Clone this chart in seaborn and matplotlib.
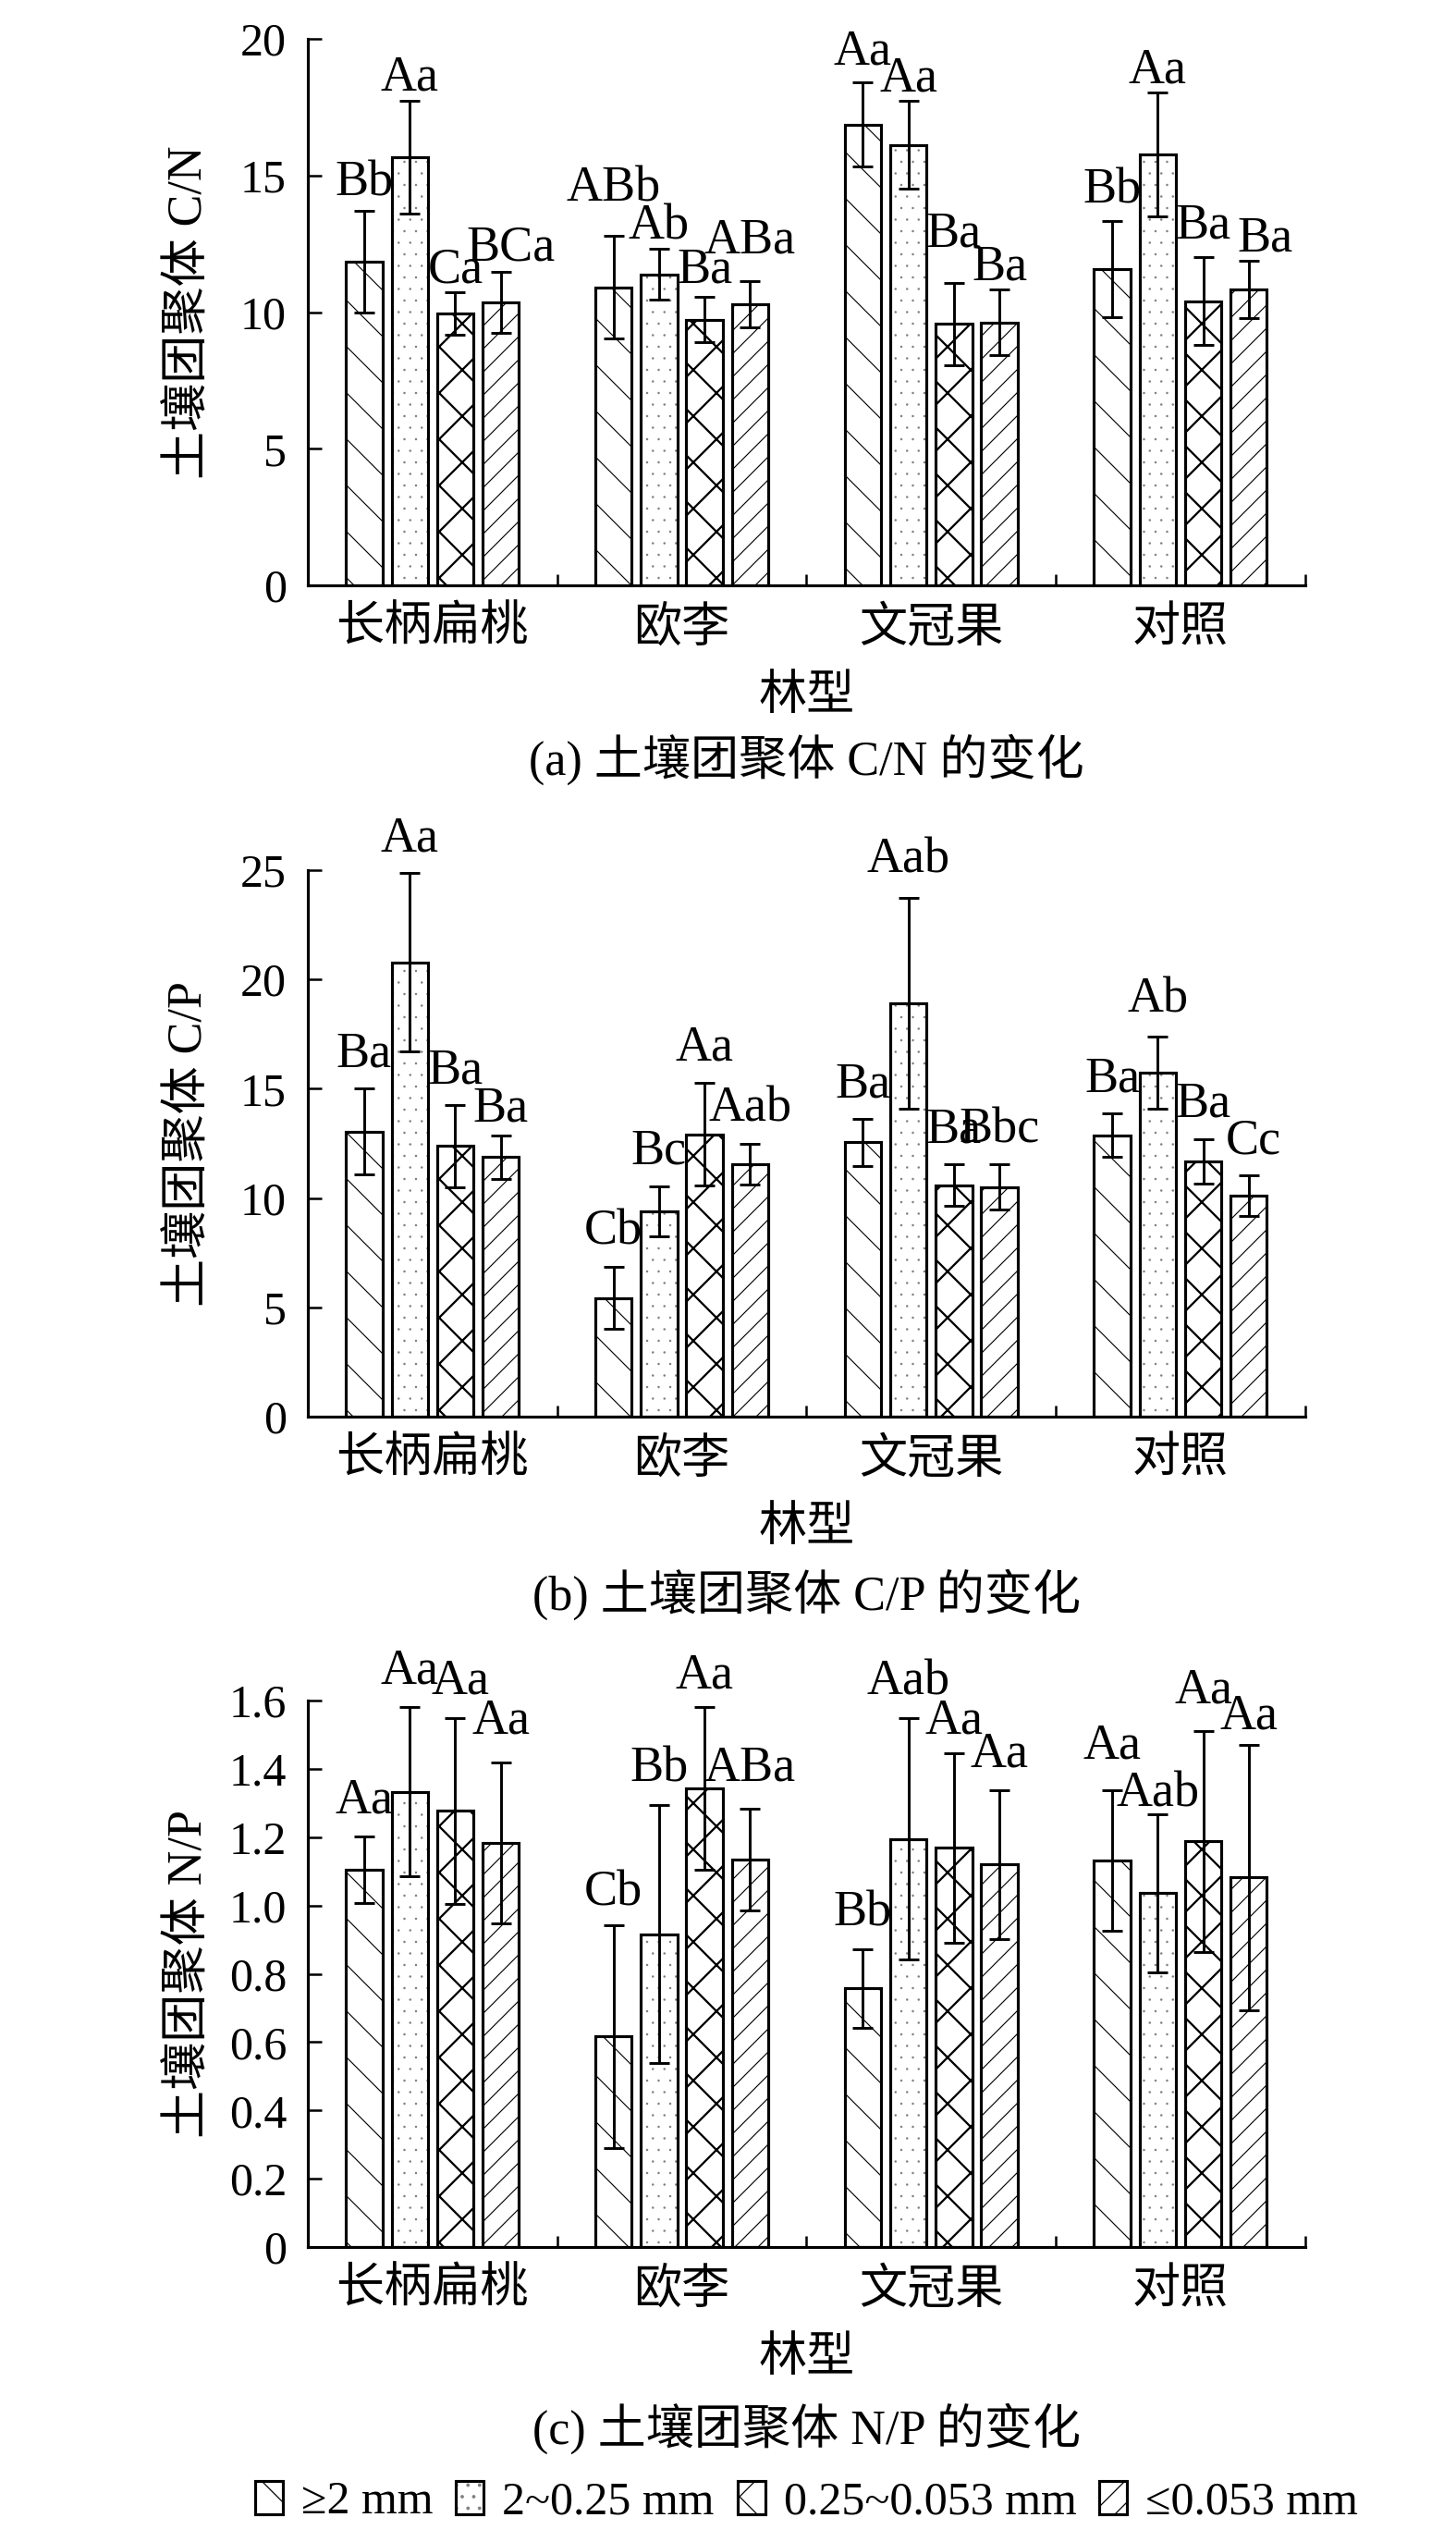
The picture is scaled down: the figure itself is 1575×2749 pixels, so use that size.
import pandas as pd
import matplotlib.pyplot as plt
import matplotlib.patches as mpatches
import matplotlib.colors as mcolors
import seaborn as sns

# 林型与团聚体粒级
forest_types = ['长柄扁桃', '欧李', '文冠果', '对照']
size_classes = ['≥2 mm', '2~0.25 mm', '0.25~0.053 mm', '≤0.053 mm']

# (a) 土壤团聚体 C/N  (行: 林型, 列: 粒级)
cn_mean = [[11.85, 15.68, 9.95, 10.36],
           [10.91, 11.38, 9.73, 10.30],
           [16.86, 16.12, 9.57, 9.63],
           [11.58, 15.76, 10.40, 10.84]]
cn_sd = [[1.85, 2.07, 0.78, 1.12],
         [1.87, 0.93, 0.83, 0.85],
         [1.54, 1.60, 1.50, 1.20],
         [1.75, 2.27, 1.60, 1.05]]
cn_letters = [['Bb', 'Aa', 'Ca', 'BCa'],
              ['ABb', 'Ab', 'Ba', 'ABa'],
              ['Aa', 'Aa', 'Ba', 'Ba'],
              ['Bb', 'Aa', 'Ba', 'Ba']]

# (b) 土壤团聚体 C/P
cp_mean = [[13.04, 20.79, 12.38, 11.87],
           [5.43, 9.40, 12.92, 11.55],
           [12.55, 18.92, 10.58, 10.51],
           [12.87, 15.73, 11.68, 10.11]]
cp_sd = [[1.96, 4.08, 1.87, 1.00],
         [1.43, 1.15, 2.36, 0.94],
         [1.07, 4.82, 0.95, 1.02],
         [1.00, 1.64, 1.03, 0.91]]
cp_letters = [['Ba', 'Aa', 'Ba', 'Ba'],
              ['Cb', 'Bc', 'Aa', 'Aab'],
              ['Ba', 'Aab', 'Ba', 'Bbc'],
              ['Ba', 'Ab', 'Ba', 'Cc']]

# (c) 土壤团聚体 N/P
np_mean = [[1.104, 1.333, 1.278, 1.183],
           [0.617, 0.916, 1.343, 1.134],
           [0.757, 1.195, 1.169, 1.120],
           [1.132, 1.036, 1.188, 1.082]]
np_sd = [[0.097, 0.247, 0.272, 0.236],
         [0.326, 0.378, 0.237, 0.149],
         [0.114, 0.353, 0.277, 0.217],
         [0.205, 0.231, 0.324, 0.389]]
np_letters = [['Aa', 'Aa', 'Aa', 'Aa'],
              ['Cb', 'Bb', 'Aa', 'ABa'],
              ['Bb', 'Aab', 'Aa', 'Aa'],
              ['Aa', 'Aab', 'Aa', 'Aa']]

cn_ticks = [0, 5, 10, 15, 20]
cp_ticks = [0, 5, 10, 15, 20, 25]
np_ticks = [0, 0.2, 0.4, 0.6, 0.8, 1.0, 1.2, 1.4, 1.6]
np_tick_labels = ['0', '0.2', '0.4', '0.6', '0.8', '1.0', '1.2', '1.4', '1.6']

hatches = ['\\', '..', 'x', '//']
hatch_lw = [0.55, 0.0, 1.1, 0.55]
hatch_col = ['black', '0.5', 'black', 'black']

# 字母标注的位置微调 (像素): 默认间距 + 个别标注的 (dx, gap)
cn_gap, cn_nudge = 11, {(0, 0): (0, 17), (0, 3): (11, 12), (1, 0): (0, 38), (1, 2): (0, 16),
                        (1, 3): (0, 30), (2, 0): (0, 20), (2, 2): (0, 39), (3, 0): (0, 20),
                        (3, 2): (0, 21), (3, 3): (18, 10)}
cp_gap, cp_nudge = 24, {(0, 3): (0, 15), (2, 1): (0, 27), (3, 1): (0, 27), (3, 3): (5, 24)}
np_gap, np_nudge = 26, {(0, 2): (6, 26), (0, 3): (0, 31), (1, 0): (0, 21), (1, 2): (0, 21),
                        (1, 3): (0, 31), (2, 2): (0, 21), (3, 0): (0, 35), (3, 1): (0, 9),
                        (3, 2): (0, 30), (3, 3): (0, 17)}

sns.set_style('ticks')
plt.rcParams['font.family'] = ['Liberation Serif', 'Noto Sans CJK SC', 'DejaVu Sans']
plt.rcParams['hatch.linewidth'] = 0.6
plt.rcParams['text.color'] = 'black'
plt.rcParams['axes.labelcolor'] = 'black'
plt.rcParams['xtick.color'] = 'black'
plt.rcParams['ytick.color'] = 'black'

DPI = 150
px = 72 / DPI  # pixel -> point
fig = plt.figure(figsize=(10.5, 18.3267), dpi=DPI)


def style_patch(p, j):
    p.set_hatch(hatches[j])
    if hasattr(p, 'set_hatch_linewidth'):
        p.set_hatch_linewidth(hatch_lw[j])
    if hasattr(p, 'set_hatchcolor'):
        p.set_hatchcolor(hatch_col[j])
    else:
        p._hatch_color = mcolors.to_rgba(hatch_col[j])


panels = [
    (cn_mean, cn_sd, cn_letters, cn_ticks, None, '土壤团聚体 C/N', '(a) 土壤团聚体 C/N 的变化',
     0.7697, 0.7013, cn_gap, cn_nudge),
    (cp_mean, cp_sd, cp_letters, cp_ticks, None, '土壤团聚体 C/P', '(b) 土壤团聚体 C/P 的变化',
     0.4427, 0.3729, cp_gap, cp_nudge),
    (np_mean, np_sd, np_letters, np_ticks, np_tick_labels, '土壤团聚体 N/P', '(c) 土壤团聚体 N/P 的变化',
     0.1160, 0.0447, np_gap, np_nudge),
]

ax_left, ax_w, ax_h = 0.2114, 0.685, 0.215

for mean, sd, letters, yticks, ylabels, ylab, caption, bottom, cap_y, gap, nudge in panels:
    rows = []
    for i, ft in enumerate(forest_types):
        for j, sc in enumerate(size_classes):
            rows.append({'林型': ft, '粒级': sc, 'value': mean[i][j]})
    df = pd.DataFrame(rows)

    ax = fig.add_axes([ax_left, bottom, ax_w, ax_h])
    sns.barplot(data=df, x='林型', y='value', hue='粒级',
                order=forest_types, hue_order=size_classes,
                palette=['white'] * 4, saturation=1,
                width=0.73, gap=0.2, errorbar=None,
                edgecolor='black', linewidth=1.5, legend=False, ax=ax)

    bar_conts = list(ax.containers)
    for j, cont in enumerate(bar_conts):
        for bar in cont.patches:
            style_patch(bar, j)
            xc = bar.get_x() + bar.get_width() / 2
            i = int(round(xc))
            ax.errorbar(xc, mean[i][j], yerr=sd[i][j], fmt='none',
                        ecolor='black', elinewidth=1.4, capsize=5.3,
                        capthick=1.4, zorder=5)
            dx, dy = nudge.get((i, j), (0, gap))
            ax.annotate(letters[i][j], (xc, mean[i][j] + sd[i][j]),
                        xytext=(dx * px, dy * px), textcoords='offset points',
                        ha='center', va='baseline', fontsize=26,
                        family='Liberation Serif', annotation_clip=False)

    ax.set_xlim(-0.5, 3.5)
    ax.set_ylim(yticks[0], yticks[-1])
    ax.set_yticks(yticks)
    if ylabels is not None:
        ax.set_yticklabels(ylabels)
    ax.set_xticks(range(len(forest_types)))
    ax.set_xticklabels(forest_types, fontsize=25)
    ax.set_xticks([0.5, 1.5, 2.5, 3.5], minor=True)
    ax.tick_params(axis='x', which='major', length=0, pad=11)
    ax.tick_params(axis='x', which='minor', direction='in', length=6, width=1.2)
    ax.tick_params(axis='y', direction='in', length=7.2, width=1.2,
                   labelsize=24, pad=11)
    for lab in ax.get_yticklabels():
        lab.set_family('Liberation Serif')

    sns.despine(ax=ax)
    for sp in ['left', 'bottom']:
        ax.spines[sp].set_linewidth(1.5)
        ax.spines[sp].set_color('black')

    ax.set_xlabel('林型', fontsize=25, va='center')
    ax.xaxis.set_label_coords(0.5, -0.205)
    ax.set_ylabel(ylab, fontsize=25, va='center')
    ax.yaxis.set_label_coords(-0.118, 0.5)

    fig.text(ax_left + ax_w / 2, cap_y, caption, ha='center', va='center', fontsize=25)

handles = []
for j in range(len(size_classes)):
    h = mpatches.Patch(facecolor='white', edgecolor='black', linewidth=1.5,
                       label=size_classes[j])
    style_patch(h, j)
    handles.append(h)
fig.legend(handles=handles, loc='center', bbox_to_anchor=(ax_left + ax_w / 2, 0.0156),
           ncol=4, frameon=False, fontsize=24, handlelength=0.6, handleheight=0.75,
           handletextpad=0.4, columnspacing=0.5, borderaxespad=0)

fig.savefig('out.png', dpi=DPI)
